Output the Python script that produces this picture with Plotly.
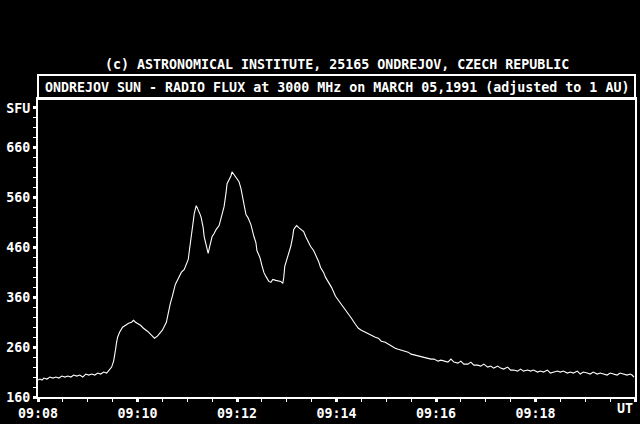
import plotly.graph_objects as go

# Time in minutes after 09:08 UT, and flux in SFU
t_min = [0.00, 0.04, 0.08, 0.12, 0.18, 0.24, 0.30, 0.36, 0.42, 0.48, 0.54, 0.60, 0.66, 0.72, 0.78,
         0.84, 0.90, 0.96, 1.02, 1.08, 1.14, 1.20, 1.26, 1.32, 1.38, 1.44, 1.48, 1.52, 1.54, 1.56,
         1.58, 1.60, 1.64, 1.70, 1.76, 1.82, 1.88, 1.92, 1.96, 2.00, 2.06, 2.12, 2.20, 2.28, 2.34,
         2.40, 2.44, 2.50, 2.58, 2.62, 2.66, 2.70, 2.76, 2.82, 2.88, 2.94, 2.98, 3.02, 3.04, 3.06,
         3.10, 3.12, 3.14, 3.18, 3.20, 3.22, 3.26, 3.28, 3.32, 3.34, 3.38, 3.42, 3.46, 3.50, 3.54,
         3.58, 3.64, 3.66, 3.70, 3.74, 3.78, 3.80, 3.84, 3.88, 3.90, 3.94, 3.98, 4.04, 4.08, 4.12,
         4.16, 4.18, 4.22, 4.28, 4.34, 4.38, 4.40, 4.46, 4.50, 4.54, 4.58, 4.62, 4.64, 4.68, 4.72,
         4.78, 4.84, 4.88, 4.92, 4.94, 4.96, 5.00, 5.04, 5.08, 5.12, 5.14, 5.18, 5.20, 5.24, 5.28,
         5.34, 5.38, 5.44, 5.48, 5.54, 5.58, 5.64, 5.68, 5.74, 5.78, 5.84, 5.90, 5.98, 6.04, 6.10,
         6.16, 6.24, 6.30, 6.38, 6.44, 6.50, 6.58, 6.64, 6.70, 6.78, 6.84, 6.90, 6.98, 7.04, 7.10,
         7.18, 7.24, 7.30, 7.38, 7.44, 7.50, 7.58, 7.64, 7.70, 7.78, 7.84, 7.90, 7.96, 8.04, 8.10,
         8.16, 8.24, 8.30, 8.36, 8.44, 8.50, 8.56, 8.64, 8.70, 8.76, 8.84, 8.90, 8.96, 9.04, 9.10,
         9.16, 9.24, 9.30, 9.36, 9.44, 9.50, 9.56, 9.64, 9.70, 9.76, 9.84, 9.90, 9.96, 10.04, 10.10,
         10.16, 10.24, 10.30, 10.36, 10.44, 10.50, 10.56, 10.64, 10.70, 10.76, 10.84, 10.90, 10.96,
         11.04, 11.10, 11.16, 11.24, 11.30, 11.36, 11.44, 11.50, 11.56, 11.64, 11.70, 11.76, 11.84,
         11.90, 11.94, 11.98]
flux_sfu = [194, 196, 194, 198, 196, 200, 198, 200, 198, 202, 200, 202, 200, 204, 202,
            204, 200, 206, 204, 206, 204, 208, 206, 210, 208, 214, 220, 232, 242, 256,
            270, 280, 290, 300, 304, 308, 310, 314, 310, 308, 304, 298, 292, 284, 278,
            282, 286, 294, 310, 332, 348, 362, 386, 398, 410, 416, 426, 436, 452, 470,
            502, 512, 528, 544, 540, 536, 526, 520, 500, 482, 464, 448, 466, 482, 488,
            496, 504, 512, 530, 542, 570, 588, 596, 604, 612, 606, 600, 592, 578, 560,
            536, 526, 520, 506, 482, 470, 454, 440, 424, 410, 402, 394, 392, 390, 396,
            394, 392, 392, 388, 400, 422, 436, 446, 462, 482, 496, 502, 504, 500, 496,
            492, 482, 470, 462, 454, 446, 432, 420, 410, 400, 390, 380, 362, 354, 346,
            336, 326, 318, 306, 298, 294, 290, 286, 284, 280, 278, 272, 270, 266, 262,
            258, 256, 254, 252, 250, 246, 244, 242, 242, 240, 238, 236, 236, 232, 234,
            232, 230, 236, 230, 228, 232, 226, 226, 230, 224, 224, 222, 226, 220, 222,
            218, 222, 218, 216, 220, 214, 214, 212, 216, 212, 214, 212, 214, 210, 212,
            210, 214, 208, 210, 212, 210, 212, 208, 210, 208, 212, 206, 210,
            208, 206, 210, 206, 208, 206, 204, 208, 206, 204, 208, 206, 204,
            206, 204, 200, 208]

x_tickvals = [0, 2, 4, 6, 8, 10, 12]
x_ticktext = ["09:08", "09:10", "09:12", "09:14", "09:16", "09:18", ""]
y_tickvals = [160, 260, 360, 460, 560, 660, 740]
y_ticktext = ["160", "260", "360", "460", "560", "660", "SFU"]

title_top = "(c) ASTRONOMICAL INSTITUTE, 25165 ONDREJOV, CZECH REPUBLIC"
title_box = "ONDREJOV SUN - RADIO FLUX at 3000 MHz on MARCH 05,1991 (adjusted to 1 AU)"

FONT = dict(family="DejaVu Sans Mono", size=13.3, color="white", weight="bold")

fig = go.Figure()
fig.add_trace(go.Scatter(x=t_min, y=flux_sfu, mode="lines",
                         line=dict(color="white", width=1.1), hoverinfo="skip"))

fig.update_layout(
    width=640, height=424,
    margin=dict(l=38, r=3, t=99, b=26, pad=0),
    paper_bgcolor="black", plot_bgcolor="black",
    showlegend=False,
    font=FONT,
)
fig.update_xaxes(
    range=[0, 12], tickvals=x_tickvals, ticktext=x_ticktext,
    showgrid=False, zeroline=False,
    showline=True, linecolor="white", linewidth=2, mirror=True,
    ticks="outside", ticklen=3, tickwidth=3, tickcolor="white",
    minor=dict(dtick=0.5, ticks="outside", ticklen=3, tickwidth=1, tickcolor="white"),
    tickfont=FONT,
)
fig.update_yaxes(
    range=[160, 758], tickvals=y_tickvals, ticktext=y_ticktext,
    showgrid=False, zeroline=False,
    showline=True, linecolor="white", linewidth=2, mirror=True,
    ticks="outside", ticklen=3, tickwidth=3, tickcolor="white",
    minor=dict(tick0=160, dtick=20, ticks="outside", ticklen=3, tickwidth=1, tickcolor="white"),
    tickfont=FONT,
)

ph = 424 - 99 - 26
fig.add_shape(type="rect", xref="paper", yref="paper",
              x0=0, x1=1, y0=1, y1=(398 - 75) / ph,
              line=dict(color="white", width=2))
fig.add_annotation(text=title_box, xref="paper", yref="paper", x=0.5, y=(398 - 87) / ph,
                   xanchor="center", yanchor="middle", showarrow=False, font=FONT)
fig.add_annotation(text=title_top, xref="paper", yref="paper", x=0.5, y=(398 - 64) / ph,
                   xanchor="center", yanchor="middle", showarrow=False, font=FONT)
fig.add_annotation(text="UT", xref="paper", yref="paper", x=1.0, y=(398 - 410) / ph,
                   xanchor="right", yanchor="middle", showarrow=False, font=FONT)

fig.write_html(
    "out.html",
    config={"displayModeBar": False},
    post_script="document.body.style.margin='0';document.body.style.background='black';"
                "document.body.style.overflow='hidden';",
)
